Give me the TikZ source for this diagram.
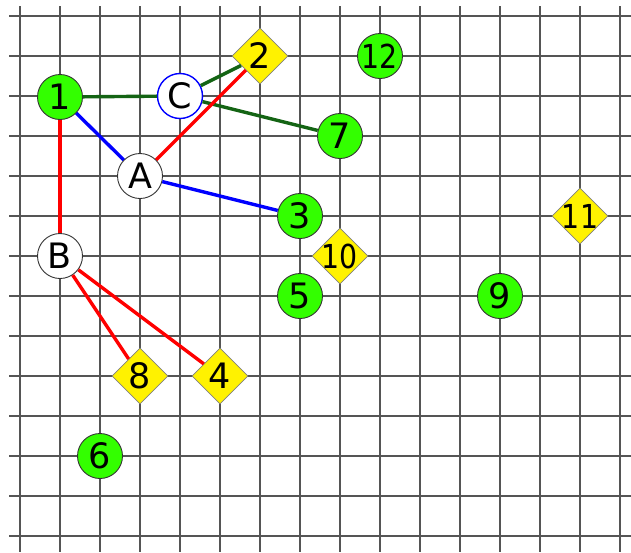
\documentclass[tikz,border=0pt]{standalone}
\usepackage{fontspec}
\setmainfont{DejaVu Sans}
\usetikzlibrary{shapes.geometric}
\definecolor{nodegreen}{RGB}{51,255,0}
\definecolor{edgegreen}{RGB}{20,100,20}
\definecolor{gridgray}{RGB}{85,85,85}
\newcommand\lbl[1]{\makebox[0pt]{\raisebox{-0.365em}[0pt][0pt]{#1}}}
\newcommand\lbltwo[1]{\makebox[0pt]{\raisebox{-0.365em}[0pt][0pt]{\scalebox{0.86}[1]{#1}}}}
\tikzset{
  gridline/.style={draw=gridgray, line width=1.4pt},
  gnode/.style={circle, fill=nodegreen, draw=black!80, line width=0.9pt, minimum size=45pt, inner sep=0pt, font=\fontsize{35}{35}\selectfont},
  gnodetwo/.style={gnode, font=\fontsize{33}{33}\selectfont},
  wnode/.style={circle, fill=white, draw=black!80, line width=0.9pt, minimum size=45pt, inner sep=0pt, font=\fontsize{35}{35}\selectfont},
  bnode/.style={wnode, draw=blue, line width=1.4pt},
  ynode/.style={diamond, fill=yellow, draw=black!50, line width=0.8pt, minimum size=56pt, inner sep=0pt, font=\fontsize{35}{35}\selectfont},
  ynodetwo/.style={ynode, font=\fontsize{33}{33}\selectfont},
  redge/.style={draw=red, line width=3.4pt},
  bedge/.style={draw=blue, line width=3.4pt},
  gedge/.style={draw=edgegreen, line width=3.4pt},
}
\begin{document}
\begin{tikzpicture}[x=1pt, y=-1pt]
\useasboundingbox (0,0) rectangle (631,552);
% grid
\foreach \k in {0,...,15} {
  \draw[gridline] ({20+40*\k},6) -- ({20+40*\k},552);
}
\foreach \k in {0,...,13} {
  \draw[gridline] (9,{16+40*\k}) -- (631,{16+40*\k});
}
% nodes
\node[gnode] (n1) at (60,97) {\lbl{1}};
\node[bnode] (nC) at (180,96) {\lbl{C}};
\node[ynode] (n2) at (260,56) {\lbl{2}};
\node[gnodetwo] (n12) at (380,56) {\lbltwo{12}};
\node[gnode] (n7) at (340,136) {\lbl{7}};
\node[wnode] (nA) at (140,176) {\lbl{A}};
\node[gnode] (n3) at (300,216) {\lbl{3}};
\node[ynodetwo] (n11) at (580,216) {\lbltwo{11}};
\node[wnode] (nB) at (60,256) {\lbl{B}};
\node[ynodetwo] (n10) at (340,256) {\lbltwo{10}};
\node[gnode] (n5) at (300,296) {\lbl{5}};
\node[gnode] (n9) at (500,296) {\lbl{9}};
\node[ynode] (n8) at (140,376) {\lbl{8}};
\node[ynode] (n4) at (220,376) {\lbl{4}};
\node[gnode] (n6) at (100,456) {\lbl{6}};
% edges
\draw[gedge] (n1) -- (nC);
\draw[gedge] (nC) -- (n2);
\draw[gedge] (nC) -- (n7);
\draw[bedge] (n1) -- (nA);
\draw[bedge] (nA) -- (n3);
\draw[redge] (nA) -- (n2);
\draw[redge] (n1) -- (nB);
\draw[redge] (nB) -- (n8);
\draw[redge] (nB) -- (n4);
\end{tikzpicture}
\end{document}
